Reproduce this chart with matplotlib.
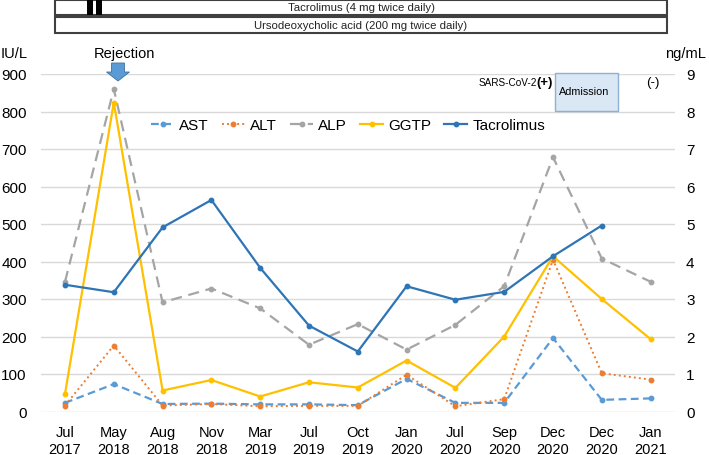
import numpy as np
import matplotlib
matplotlib.use("Agg")
import matplotlib.pyplot as plt
from matplotlib.patches import Rectangle, FancyArrow
from matplotlib.transforms import IdentityTransform

plt.rcParams["font.family"] = ["Liberation Sans", "DejaVu Sans"]

months = ["Jul\n2017", "May\n2018", "Aug\n2018", "Nov\n2018", "Mar\n2019", "Jul\n2019",
          "Oct\n2019", "Jan\n2020", "Jul\n2020", "Sep\n2020", "Dec\n2020", "Dec\n2020",
          "Jan\n2021"]
ast = [23, 73, 20, 21, 19, 19, 17, 87, 23, 23, 196, 31, 35]
alt = [16, 176, 16, 20, 14, 15, 15, 98, 14, 33, 405, 102, 85]
alp = [346, 860, 291, 328, 275, 178, 233, 165, 231, 334, 678, 408, 346]
ggtp = [47, 824, 56, 84, 40, 78, 64, 136, 63, 200, 414, 300, 193]
tacrolimus = [3.38, 3.18, 4.91, 5.64, 3.83, 2.29, 1.60, 3.34, 2.98, 3.19, 4.14, 4.96, np.nan]

W, H = 709, 456
fig = plt.figure(figsize=(W / 100, H / 100), dpi=100)
ax = fig.add_axes([40.6 / W, (H - 412.5) / H, (675 - 40.6) / W, (412.5 - 75) / H])
ax2 = ax.twinx()

x = np.arange(len(months))
ms = 3.2
l_ast, = ax.plot(x, ast, color="#5B9BD5", lw=1.6, ls=(0, (3.5, 2)), marker="o", ms=ms, label="AST")
l_alt, = ax.plot(x, alt, color="#ED7D31", lw=1.4, ls=(0, (1, 1.6)), marker="o", ms=ms, label="ALT")
l_alp, = ax.plot(x, alp, color="#A5A5A5", lw=1.6, ls=(0, (5, 3)), marker="o", ms=ms, label="ALP")
l_ggtp, = ax.plot(x, ggtp, color="#FFC000", lw=1.6, marker="o", ms=ms, label="GGTP")
l_tac, = ax2.plot(x, tacrolimus, color="#2E75B6", lw=1.6, marker="o", ms=ms, label="Tacrolimus")

ax.set_xlim(-0.5, len(months) - 0.5)
ax.set_ylim(0, 900)
ax2.set_ylim(0, 9)
ax.set_yticks(range(0, 901, 100))
ax2.set_yticks(range(0, 10))
ax.set_xticks(x, months, linespacing=1.2)
ax.grid(axis="y", color="#D9D9D9", lw=1)
ax.set_axisbelow(True)
for a in (ax, ax2):
    for s in a.spines.values():
        s.set_visible(False)
ax.tick_params(axis="y", length=0, pad=10, labelsize=11)
ax.tick_params(axis="x", length=0, pad=10, labelsize=10.5)
ax2.tick_params(axis="y", length=0, pad=8, labelsize=11)

ax2.legend(handles=[l_ast, l_alt, l_alp, l_ggtp, l_tac], loc="center",
           bbox_to_anchor=(0.485, 0.849), ncol=5, frameon=False, fontsize=11,
           handlelength=1.5, columnspacing=0.85, handletextpad=0.35)

# unit labels
fig.text(1 / W, 1 - 54 / H, "IU/L", fontsize=10.5, ha="left", va="center")
fig.text(706 / W, 1 - 54 / H, "ng/mL", fontsize=10.5, ha="right", va="center")

# rejection marker
fig.text(124 / W, 1 - 54 / H, "Rejection", fontsize=10.5, ha="center", va="center")
fig.add_artist(FancyArrow(118, H - 64, 0, -18, width=13, head_width=23, head_length=9,
                          length_includes_head=True, facecolor="#5B9BD5",
                          edgecolor="#41719C", lw=0.6, transform=IdentityTransform()))

# medication bars
for y0, y1, txt in [(1, 15.7, "Tacrolimus (4 mg twice daily)"),
                    (18.3, 34.3, "Ursodeoxycholic acid (200 mg twice daily)")]:
    fig.add_artist(Rectangle((55, H - y1), 612, y1 - y0, facecolor="white",
                             edgecolor="#404040", lw=1.5, transform=IdentityTransform()))
    fig.text(361 / W, 1 - (y0 + y1) / 2 / H, txt, fontsize=8.2, ha="center", va="center",
             color="#222222")
for bx, bw in [(86.7, 6.3), (95.5, 6.2)]:
    fig.add_artist(Rectangle((bx, H - 15.7), bw, 14.7, facecolor="black", edgecolor="none",
                             transform=IdentityTransform()))

# SARS-CoV-2 status
fig.text(537 / W, 1 - 83 / H, "SARS-CoV-2", fontsize=7.2, ha="right", va="center")
fig.text(553 / W, 1 - 83 / H, "(+)", fontsize=9.5, ha="right", va="center", fontweight="bold")
fig.add_artist(Rectangle((555, H - 112), 63, 38, facecolor="#DAE7F5", edgecolor="#8EB0D6",
                         lw=1, transform=IdentityTransform()))
fig.text(559 / W, 1 - 92 / H, "Admission", fontsize=7.8, ha="left", va="center")
fig.text(653 / W, 1 - 83 / H, "(-)", fontsize=9.5, ha="center", va="center")

fig.savefig("out.png", dpi=100)
